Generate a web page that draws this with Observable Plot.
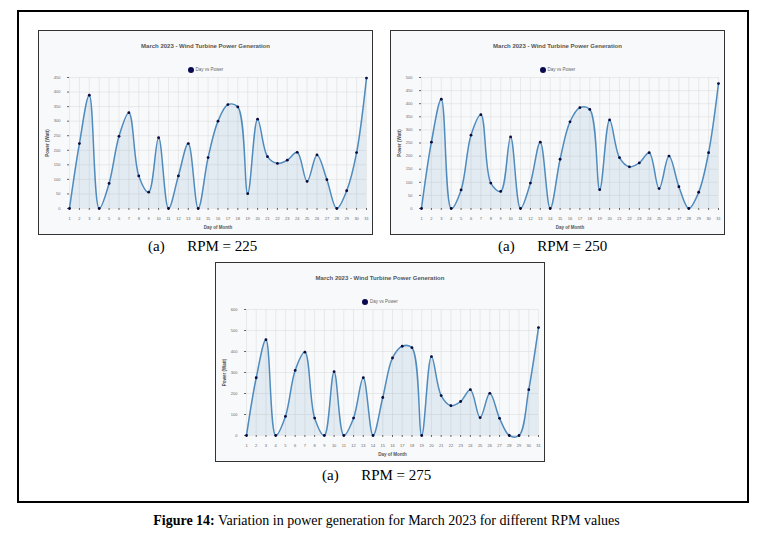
<!DOCTYPE html>
<html><head><meta charset="utf-8">
<script src="https://cdn.jsdelivr.net/npm/d3@7"></script>
<script src="https://cdn.jsdelivr.net/npm/@observablehq/plot@0.6"></script>
<style>
body{margin:0;background:#fff;font-family:"Liberation Serif",serif;}
#frame{position:absolute;left:17px;top:10px;width:728px;height:489px;border:2px solid #000;}
.panel{position:absolute;border:1px solid #333;background:#f8f9fb;font-family:"Liberation Sans",Arial,sans-serif;}
.ttl{position:absolute;left:0;right:0;top:12px;text-align:center;font-size:6px;font-weight:bold;color:#555;}
.leg{position:absolute;left:0;right:0;top:36px;text-align:center;font-size:4.5px;color:#666;}
.leg span{display:inline-block;width:6px;height:6px;border-radius:50%;background:#0a0a50;vertical-align:middle;margin-right:2px;}
.plot{position:absolute;left:0;top:42px;}
.lab{position:absolute;font-size:15px;}
#cap{position:absolute;left:0;width:773px;top:513px;text-align:center;font-size:14px;}
</style></head><body>
<div id="frame"></div>
<div id="cap"><b>Figure 14:</b> Variation in power generation for March 2023 for different RPM values</div>
<script>
const days = d3.range(1, 32);
const power225 = [0,223,389,0,86,248,329,112,56,243,0,112,223,0,175,300,357,349,51,307,178,155,166,193,93,184,99,0,61,192,448];
const power250 = [0,253,417,0,71,280,358,97,65,273,0,97,253,0,188,331,385,378,72,338,194,159,174,213,76,200,83,0,62,213,477];
const power275 = [0,275,456,0,91,310,397,83,0,304,0,83,275,0,181,369,425,418,0,376,190,142,162,218,85,201,82,0,0,218,514];
const panels = [
  {vals: power225, max: 450, step: 50, x: 38, y: 30, w: 335, h: 205, rpm: "225", lx: 148, ly: 238},
  {vals: power250, max: 500, step: 50, x: 390, y: 30, w: 335, h: 205, rpm: "250", lx: 498, ly: 238},
  {vals: power275, max: 600, step: 100, x: 215, y: 262, w: 330, h: 200, rpm: "275", lx: 322, ly: 467}
];
for (const p of panels) {
  const div = document.createElement("div");
  div.className = "panel";
  Object.assign(div.style, {left: p.x+"px", top: p.y+"px", width: (p.w-2)+"px", height: (p.h-2)+"px"});
  div.innerHTML = `<div class="ttl">March 2023 - Wind Turbine Power Generation</div><div class="leg"><span></span>Day vs Power</div>`;
  const data = days.map((d,i)=>({day:d, power:p.vals[i]}));
  const chart = Plot.plot({
    width: p.w-2, height: p.h-44,
    marginLeft: 30, marginRight: 6, marginTop: 4, marginBottom: 26,
    style: {fontSize: "4px", background: "transparent", color: "#666", fontFamily: "Liberation Sans, Arial"},
    x: {domain: [1,31], ticks: days, tickFormat: d=>d, label: "Day of Month", labelAnchor: "center", labelArrow: "none", labelOffset: 20, tickSize: 2},
    y: {domain: [0,p.max], ticks: d3.range(0,p.max+1,p.step), label: "Power (Watt)", labelAnchor: "center", labelArrow: "none", labelOffset: 24, tickSize: 2, grid: true},
    marks: [
      Plot.gridX(days, {stroke: "#ddd", strokeOpacity: 0.6}),
      Plot.areaY(data, {x: "day", y: "power", curve: "catmull-rom", fill: "#4682b4", fillOpacity: 0.12}),
      Plot.line(data, {x: "day", y: "power", curve: "catmull-rom", stroke: "#4f8bbd", strokeWidth: 1.5}),
      Plot.dot(data, {x: "day", y: "power", r: 1.4, fill: "#0a0a3c"})
    ]
  });
  chart.classList.add("plot");
  chart.querySelectorAll('[aria-label="x-axis label"] text, [aria-label="y-axis label"] text').forEach(t=>{t.style.fontWeight="bold";t.style.fontSize="4.5px";t.setAttribute("fill","#555");});
  div.appendChild(chart);
  document.body.appendChild(div);
  const lab = document.createElement("div");
  lab.className = "lab";
  lab.style.left = p.lx+"px"; lab.style.top = p.ly+"px";
  lab.innerHTML = "(a)&nbsp;&nbsp;&nbsp;&nbsp;&nbsp;&nbsp;RPM = " + p.rpm;
  document.body.appendChild(lab);
}
</script>
</body></html>
